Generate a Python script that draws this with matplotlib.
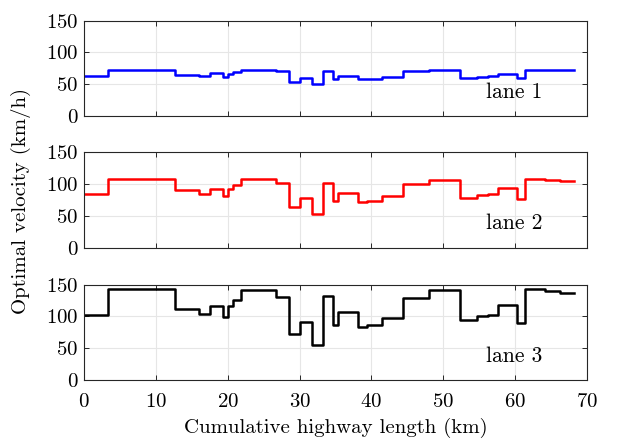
import matplotlib
matplotlib.use("Agg")
from matplotlib import pyplot as plt

plt.rcParams['font.family'] = 'serif'
plt.rcParams['font.serif'] = ['cmr10']
plt.rcParams['mathtext.fontset'] = 'cm'
plt.rcParams['axes.formatter.use_mathtext'] = True

# segment boundaries along the highway (km)
edges = [0, 3.4, 12.6, 16.0, 17.6, 19.3, 20.1, 20.8, 21.9, 26.7, 28.5, 30.0,
         31.7, 33.3, 34.7, 35.3, 38.2, 39.4, 41.5, 44.4, 48.0, 52.4, 54.75,
         56.2, 57.6, 60.3, 61.4, 64.2, 66.3, 68.2]

lane1 = [63, 72.5, 65, 63, 67, 61.5, 66.5, 69.5, 72.5, 70.5, 53.5, 59, 50,
         70.5, 57.5, 63.5, 57.5, 58, 60.5, 70, 72.5, 60, 61.5, 62.5, 66.5,
         59, 72.5, 72, 71.5]
lane2 = [84, 108, 90, 84.5, 93, 81.5, 92, 98.5, 107.5, 101, 64.5, 77.5, 52.5,
         101.5, 73.5, 86.5, 71.5, 73, 80.5, 100.5, 107, 78.5, 82.5, 84, 94,
         76, 108, 106, 104.5]
lane3 = [103, 143.5, 112.5, 104, 117, 99, 116, 126, 141.5, 130, 73, 92, 55.5,
         132, 87, 107, 84, 86, 97, 129, 141, 94, 100.5, 103, 117.5, 89,
         143.5, 139.5, 137.5]

lanes = [lane1, lane2, lane3]
colors = ['#0000ff', '#ff0000', '#000000']
names = ['lane 1', 'lane 2', 'lane 3']

fig = plt.figure(figsize=(6.27, 4.42), dpi=100)
bottoms = [0.7376, 0.4396, 0.140]
height = 0.216

for i in range(3):
    ax = fig.add_axes([0.134, bottoms[i], 0.802, height])
    vals = lanes[i] + [lanes[i][-1]]
    ax.plot(edges, vals, drawstyle='steps-post', color=colors[i], linewidth=1.8)
    ax.set_xlim(0, 70)
    ax.set_ylim(0, 150)
    ax.set_yticks([0, 50, 100, 150])
    ax.set_xticks(range(0, 71, 10))
    ax.grid(True, color='#e6e6e6', linewidth=0.8)
    ax.set_axisbelow(True)
    ax.tick_params(direction='in', top=True, right=True, labelsize=15,
                   color='#262626', length=3.5, width=0.7, pad=4)
    ax.tick_params(axis='x', pad=9)
    for s in ax.spines.values():
        s.set_color('#262626')
        s.set_linewidth(0.8)
    if i < 2:
        ax.set_xticklabels([])
    ax.text(56, 38, names[i], fontsize=15.5, va='center', ha='left')

fig.text(0.034, 0.545, 'Optimal velocity (km/h)', rotation=90, fontsize=15,
         ha='center', va='center')
fig.text(0.535, 0.032, 'Cumulative highway length (km)', fontsize=15,
         ha='center', va='center')

fig.savefig('out.png', dpi=100)
